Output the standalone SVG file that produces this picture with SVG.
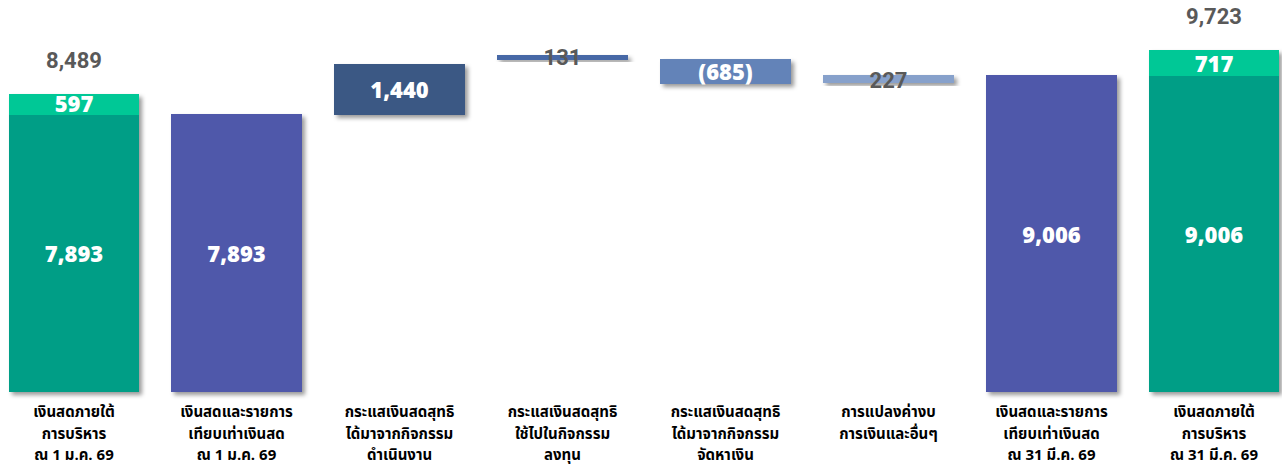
<svg xmlns="http://www.w3.org/2000/svg" width="1282" height="467" viewBox="0 0 1282 467">
<style>
.v{font-family:"Open Sans","Liberation Sans",sans-serif;font-weight:800;font-size:22px;fill:#fff;text-anchor:middle}
.g{font-family:Roboto,"Liberation Sans",sans-serif;font-weight:700;font-size:22px;fill:#595959;text-anchor:middle}
.c{font-family:"Noto Sans Thai","Noto Sans","Leelawadee UI",sans-serif;font-weight:700;font-size:15px;fill:#000;text-anchor:middle}
</style>
<defs>
<filter id="sh" x="-10%" y="-10%" width="125%" height="140%">
<feDropShadow dx="3" dy="3" stdDeviation="2" flood-color="#000" flood-opacity="0.4"/>
</filter>
</defs>
<rect width="1282" height="467" fill="#fff"/>
<g id="connectors"></g>
<g id="bar1" filter="url(#sh)">
<rect x="9" y="94" width="130" height="21" fill="#00C896"/>
<rect x="9" y="115" width="130" height="277" fill="#039E86"/>
</g>
<g id="bar1-labels">
<text class="g" x="74" y="68">8,489</text>
<text class="v" x="74" y="112">597</text>
<text class="v" x="74" y="262">7,893</text>
<text class="c" x="74" y="417">เงินสดภายใต้</text>
<text class="c" x="74" y="439">การบริหาร</text>
<text class="c" x="74" y="460">ณ 1 ม.ค. 69</text>
</g>
<g id="bar2">
<rect x="171" y="114" width="131" height="278" fill="#5058AA" filter="url(#sh)"/>
<text class="v" x="236.5" y="262">7,893</text>
<text class="c" x="236.5" y="417">เงินสดและรายการ</text>
<text class="c" x="236.5" y="439">เทียบเท่าเงินสด</text>
<text class="c" x="236.5" y="460">ณ 1 ม.ค. 69</text>
</g>
<g id="bar3">
<rect x="334" y="64" width="131" height="51" fill="#3B5884" filter="url(#sh)"/>
<text class="v" x="399.5" y="98">1,440</text>
<text class="c" x="399.5" y="417">กระแสเงินสดสุทธิ</text>
<text class="c" x="399.5" y="439">ได้มาจากกิจกรรม</text>
<text class="c" x="399.5" y="460">ดำเนินงาน</text>
</g>
<g id="bar4">
<rect x="497" y="55" width="131" height="5" fill="#4768A6" filter="url(#sh)"/>
<text class="g" x="562.5" y="65">131</text>
<text class="c" x="562.5" y="417">กระแสเงินสดสุทธิ</text>
<text class="c" x="562.5" y="439">ใช้ไปในกิจกรรม</text>
<text class="c" x="562.5" y="460">ลงทุน</text>
</g>
<g id="bar5">
<rect x="660" y="59" width="131" height="25" fill="#6383B8" filter="url(#sh)"/>
<text class="v" x="725.5" y="80">(685)</text>
<text class="c" x="725.5" y="417">กระแสเงินสดสุทธิ</text>
<text class="c" x="725.5" y="439">ได้มาจากกิจกรรม</text>
<text class="c" x="725.5" y="460">จัดหาเงิน</text>
</g>
<g id="bar6">
<rect x="823" y="75" width="131" height="8" fill="#87A1CB" filter="url(#sh)"/>
<text class="g" x="888.5" y="88">227</text>
<text class="c" x="888.5" y="417">การแปลงค่างบ</text>
<text class="c" x="888.5" y="439">การเงินและอื่นๆ</text>
</g>
<g id="bar7">
<rect x="986" y="75" width="131" height="317" fill="#5058AA" filter="url(#sh)"/>
<text class="v" x="1051.5" y="243">9,006</text>
<text class="c" x="1051.5" y="417">เงินสดและรายการ</text>
<text class="c" x="1051.5" y="439">เทียบเท่าเงินสด</text>
<text class="c" x="1051.5" y="460">ณ 31 มี.ค. 69</text>
</g>
<g id="bar8" filter="url(#sh)">
<rect x="1149" y="50" width="130" height="26" fill="#00C896"/>
<rect x="1149" y="76" width="130" height="316" fill="#039E86"/>
</g>
<g id="bar8-labels">
<text class="g" x="1214" y="24">9,723</text>
<text class="v" x="1214" y="72">717</text>
<text class="v" x="1214" y="243">9,006</text>
<text class="c" x="1214" y="417">เงินสดภายใต้</text>
<text class="c" x="1214" y="439">การบริหาร</text>
<text class="c" x="1214" y="460">ณ 31 มี.ค. 69</text>
</g>
</svg>
